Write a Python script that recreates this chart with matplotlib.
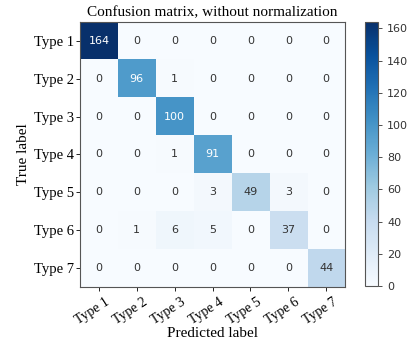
import matplotlib
matplotlib.use("Agg")
import matplotlib.pyplot as plt
import matplotlib.transforms as mtransforms
import numpy as np

classes = ["Type 1", "Type 2", "Type 3", "Type 4", "Type 5", "Type 6", "Type 7"]
cm = np.array([
    [164, 0, 0, 0, 0, 0, 0],
    [0, 96, 1, 0, 0, 0, 0],
    [0, 0, 100, 0, 0, 0, 0],
    [0, 0, 1, 91, 0, 0, 0],
    [0, 0, 0, 3, 49, 3, 0],
    [0, 1, 6, 5, 0, 37, 0],
    [0, 0, 0, 0, 0, 0, 44],
])
title = "Confusion matrix, without normalization"

serif = "Liberation Serif"
fig = plt.figure(figsize=(4.08, 3.47), dpi=100)
ax = fig.add_axes([0.196, 0.173, 0.650, 0.764])
cax = fig.add_axes([0.895, 0.176, 0.032, 0.761])

im = ax.imshow(cm, interpolation="nearest", cmap=plt.cm.Blues, aspect="auto")
cb = fig.colorbar(im, cax=cax)
cb.outline.set_edgecolor("#555555")
cb.ax.tick_params(labelsize=8, colors="#333333", length=3, width=0.6)
cb.set_ticks([0, 20, 40, 60, 80, 100, 120, 140, 160])

ax.set_title(title, fontsize=11, family=serif, pad=4)
ticks = np.arange(len(classes))
ax.set_xticks(ticks)
ax.set_yticks(ticks)
ax.set_xticklabels(classes, rotation=33, ha="right", rotation_mode="anchor", fontsize=10, family=serif)
ax.set_yticklabels(classes, fontsize=10.5, family=serif)
ax.tick_params(length=3, width=0.6, pad=1)
ax.tick_params(axis="x", pad=3)
offset = mtransforms.ScaledTranslation(6 / 100, 0, fig.dpi_scale_trans)
for lab in ax.get_xticklabels():
    lab.set_transform(lab.get_transform() + offset)
for s in ax.spines.values():
    s.set_edgecolor("#555555")

thresh = cm.max() / 2.0
for i in range(cm.shape[0]):
    for j in range(cm.shape[1]):
        ax.text(j, i, format(cm[i, j], "d"), ha="center", va="center", fontsize=8,
                color="white" if cm[i, j] > thresh else "#333333")

ax.set_ylabel("True label", fontsize=11, family=serif, labelpad=3)
ax.set_xlabel("Predicted label", fontsize=11, family=serif, labelpad=0)

fig.savefig("out.png", dpi=100)
